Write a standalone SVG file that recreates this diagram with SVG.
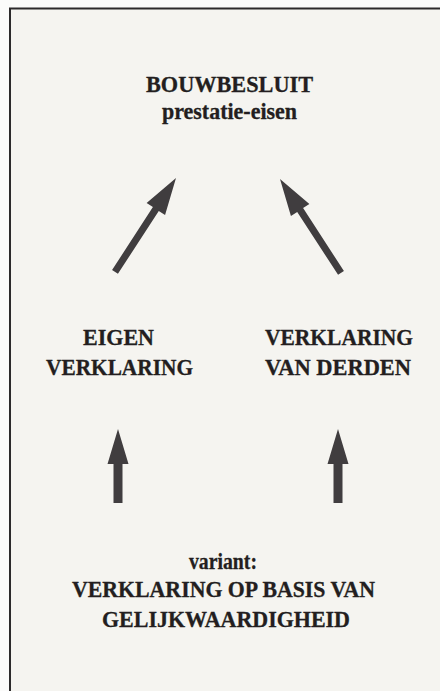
<svg xmlns="http://www.w3.org/2000/svg" width="440" height="691" viewBox="0 0 440 691">
  <style>
    .t { font-family: "Liberation Serif", "Times New Roman", serif; font-weight: bold; font-size: 22.5px; fill: #231e20; stroke: #231e20; stroke-width: 0.3; text-anchor: middle; }
    .arrow { fill: #403d3f; }
    .frame { stroke: #2c2a2b; stroke-width: 2; fill: none; }
  </style>
  <defs>
    <polygon id="diag" points="0,0 11,37 3.5,37 3.5,112 -3.5,112 -3.5,37 -11,37"/>
    <polygon id="vert" points="0,0 10.5,35 4.5,35 4.5,74 -4.5,74 -4.5,35 -10.5,35"/>
  </defs>
  <rect x="0" y="0" width="440" height="691" fill="#fbfbfa"/>
  <rect x="10" y="9" width="430" height="682" fill="#f5f4f0"/>
  <path class="frame" d="M10,691 V8.5 H440"/>

  <g id="bouwbesluit">
    <text class="t" x="229.5" y="92" textLength="167" lengthAdjust="spacingAndGlyphs">BOUWBESLUIT</text>
    <text class="t" x="229.5" y="119" textLength="135" lengthAdjust="spacingAndGlyphs">prestatie-eisen</text>
  </g>
  <g id="eigen-verklaring">
    <text class="t" x="118.5" y="345" textLength="71" lengthAdjust="spacingAndGlyphs">EIGEN</text>
    <text class="t" x="119.5" y="375" textLength="147" lengthAdjust="spacingAndGlyphs">VERKLARING</text>
  </g>
  <g id="verklaring-van-derden">
    <text class="t" x="339" y="345" textLength="148" lengthAdjust="spacingAndGlyphs">VERKLARING</text>
    <text class="t" x="338" y="375" textLength="146" lengthAdjust="spacingAndGlyphs">VAN DERDEN</text>
  </g>
  <g id="variant">
    <text class="t" x="223" y="569" textLength="68" lengthAdjust="spacingAndGlyphs">variant:</text>
    <text class="t" x="223.5" y="597" textLength="303" lengthAdjust="spacingAndGlyphs">VERKLARING OP BASIS VAN</text>
    <text class="t" x="226" y="627" textLength="248" lengthAdjust="spacingAndGlyphs">GELIJKWAARDIGHEID</text>
  </g>

  <g id="connectors" class="arrow">
    <use href="#diag" transform="translate(176,178) rotate(33)"/>
    <use href="#diag" transform="translate(280,179) rotate(-33)"/>
    <use href="#vert" transform="translate(118,429)"/>
    <use href="#vert" transform="translate(338,429)"/>
  </g>
</svg>
